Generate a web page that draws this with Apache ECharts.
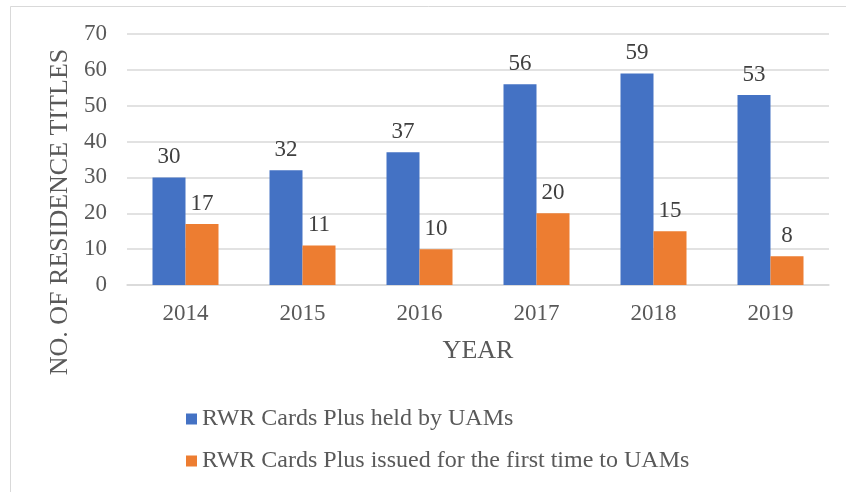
<!DOCTYPE html>
<html>
<head>
<meta charset="utf-8">
<script src="https://cdn.jsdelivr.net/npm/echarts@6/dist/echarts.min.js"></script>
<style>
html,body{margin:0;padding:0;background:#fff;}
#chart{width:846px;height:492px;}
</style>
</head>
<body>
<div id="chart"></div>
<script>
const years = ['2014', '2015', '2016', '2017', '2018', '2019'];
const heldByUAMs = [30, 32, 37, 56, 59, 53];
const issuedFirstTime = [17, 11, 10, 20, 15, 8];
const seriesNames = ['RWR Cards Plus held by UAMs', 'RWR Cards Plus issued for the first time to UAMs'];
const yTicks = { min: 0, max: 70, interval: 10 };
const xTitle = 'YEAR';
const yTitle = 'NO. OF RESIDENCE TITLES';

const FONT = '"Liberation Serif", "Times New Roman", serif';
const chart = echarts.init(document.getElementById('chart'));

const labelStyle = {
  show: true,
  position: 'top',
  distance: 9,
  color: '#404040',
  fontFamily: FONT,
  fontSize: 23
};

chart.setOption({
  animation: false,
  backgroundColor: '#fff',
  textStyle: { fontFamily: FONT },
  grid: { left: 127, right: 17, top: 34, bottom: 207 },
  legend: {
    orient: 'vertical',
    left: 181,
    top: 402,
    itemWidth: 11,
    itemHeight: 11,
    itemGap: 18,
    icon: 'rect',
    textStyle: { fontFamily: FONT, fontSize: 24, color: '#595959' },
    data: seriesNames
  },
  xAxis: {
    type: 'category',
    data: years,
    name: xTitle,
    nameLocation: 'middle',
    nameGap: 53,
    nameTextStyle: { fontFamily: FONT, fontSize: 26, color: '#595959' },
    axisLine: { lineStyle: { color: '#d9d9d9', width: 1.5 } },
    axisTick: { show: false },
    axisLabel: { margin: 17, fontFamily: FONT, fontSize: 23, color: '#595959' }
  },
  yAxis: {
    type: 'value',
    min: yTicks.min,
    max: yTicks.max,
    interval: yTicks.interval,
    axisLine: { show: false },
    axisTick: { show: false },
    axisLabel: { margin: 20, fontFamily: FONT, fontSize: 23, color: '#595959' },
    splitLine: { lineStyle: { color: '#d9d9d9', width: 1.5 } }
  },
  graphic: [
    {
      type: 'rect',
      shape: { x: 10.5, y: 6.5, width: 900, height: 600 },
      style: { fill: 'none', stroke: '#d9d9d9', lineWidth: 1 },
      silent: true
    },
    {
      type: 'text',
      x: 60,
      y: 212,
      rotation: Math.PI / 2,
      style: {
        text: yTitle,
        fontFamily: FONT,
        fontSize: 26,
        fill: '#595959',
        align: 'center',
        verticalAlign: 'middle'
      }
    }
  ],
  series: [
    {
      name: seriesNames[0],
      type: 'bar',
      data: heldByUAMs,
      barWidth: 33,
      barGap: '0%',
      itemStyle: { color: '#4472C4' },
      label: labelStyle
    },
    {
      name: seriesNames[1],
      type: 'bar',
      data: issuedFirstTime,
      barWidth: 33,
      barGap: '0%',
      itemStyle: { color: '#ED7D31' },
      label: labelStyle
    }
  ]
});
</script>
</body>
</html>
